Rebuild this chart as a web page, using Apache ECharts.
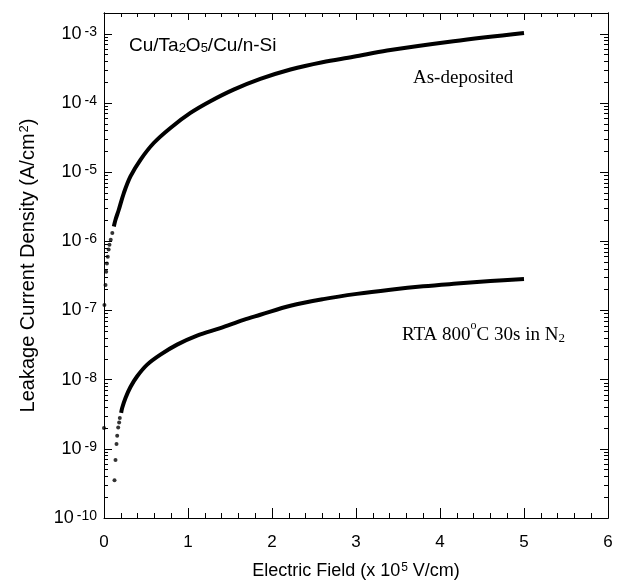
<!DOCTYPE html>
<html>
<head>
<meta charset="utf-8">
<script src="https://cdn.jsdelivr.net/npm/echarts@6/dist/echarts.min.js"></script>
<style>
	html, body { margin: 0; padding: 0; background: #fff; }
	#chart { width: 623px; height: 585px; }
</style>
</head>
<body>
<div id="chart"></div>
<script>
// As-deposited: dense part (field in 1e5 V/cm, J in A/cm2)
const asDepField = [0.117, 0.137, 0.176, 0.236, 0.315, 0.434, 0.592, 0.791, 1.029, 1.266, 1.543, 1.861, 2.22, 2.60, 2.97, 3.37, 4.16, 5.0];
const asDepJ = [1.64e-6, 2.05e-6, 2.86e-6, 4.99e-6, 8.67e-6, 1.51e-5, 2.64e-5, 4.36e-5, 7.18e-5, 1.06e-4, 1.56e-4, 2.23e-4, 3.05e-4, 3.89e-4, 4.65e-4, 5.73e-4, 7.82e-4, 1.03e-3];
// As-deposited: separate dots at low field
const asDepDotField = [0.005, 0.018, 0.026, 0.035, 0.045, 0.055, 0.065, 0.08, 0.099];
const asDepDotJ = [1.2e-7, 2.34e-7, 3.63e-7, 4.79e-7, 6.0e-7, 7.6e-7, 8.9e-7, 1.05e-6, 1.32e-6];

// RTA 800C: dense part
const rtaField = [0.204, 0.216, 0.256, 0.315, 0.395, 0.514, 0.672, 0.870, 1.108, 1.385, 1.662, 1.861, 2.22, 2.61, 3.01, 3.41, 3.80, 4.20, 4.60, 5.0];
const rtaJ = [3.31e-9, 3.89e-9, 5.43e-9, 7.83e-9, 1.12e-8, 1.65e-8, 2.30e-8, 3.21e-8, 4.34e-8, 5.56e-8, 7.33e-8, 8.67e-8, 1.17e-7, 1.46e-7, 1.74e-7, 2.0e-7, 2.24e-7, 2.45e-7, 2.66e-7, 2.85e-7];
// RTA 800C: separate dots at low field
const rtaDotField = [0.0, 0.125, 0.137, 0.149, 0.157, 0.169, 0.18, 0.188];
const rtaDotJ = [2.0e-9, 3.5e-10, 6.9e-10, 1.17e-9, 1.55e-9, 2.04e-9, 2.4e-9, 2.8e-9];

// tick values
const decadeTicks = [1e-10, 1e-9, 1e-8, 1e-7, 1e-6, 1e-5, 1e-4, 1e-3];
const minorTicks = [];
decadeTicks.forEach(d => {
	for (let k = 2; k <= 9; k++) {
		if (d * k < 2e-3) minorTicks.push(d * k);
	}
});

const zip = (xs, ys) => xs.map((x, i) => [x, ys[i]]);

const chart = echarts.init(document.getElementById('chart'), null, { renderer: 'canvas' });

// rich styles for superscripts
const supRich = (size, supSize, gap) => ({
	b: { fontFamily: 'Liberation Sans', fontSize: size, lineHeight: size, verticalAlign: 'bottom', color: '#000' },
	sup: { fontFamily: 'Liberation Sans', fontSize: supSize, lineHeight: supSize, verticalAlign: 'top', color: '#000', padding: [0, 0, 0, gap] }
});

const yBase = {
	type: 'log',
	logBase: 10,
	min: 1e-10,
	max: 2e-3,
	splitLine: { show: false },
	axisLine: { show: true, lineStyle: { color: '#000', width: 1 } }
};

const option = {
	backgroundColor: '#fff',
	animation: false,
	grid: { left: 104, right: 15, top: 13, bottom: 67, containLabel: false },
	xAxis: [{
		type: 'value',
		min: 0,
		max: 6,
		interval: 1,
		position: 'bottom',
		name: '{b|Electric Field (x 10}{sup|5}{b| V/cm)}',
		nameLocation: 'middle',
		nameGap: 44,
		nameTextStyle: { rich: supRich(18, 12, 1) },
		axisLine: { lineStyle: { color: '#000' } },
		axisTick: { inside: true, length: 10, lineStyle: { color: '#000' } },
		minorTick: { show: true, splitNumber: 5, length: 5, lineStyle: { color: '#000' } },
		splitLine: { show: false },
		axisLabel: { fontFamily: 'Liberation Sans', fontSize: 17, color: '#000', margin: 16 }
	}, {
		type: 'value',
		min: 0,
		max: 6,
		interval: 1,
		position: 'top',
		axisLine: { lineStyle: { color: '#000' } },
		axisTick: { inside: true, length: 7, lineStyle: { color: '#000' } },
		minorTick: { show: true, splitNumber: 5, length: 4, lineStyle: { color: '#000' } },
		splitLine: { show: false },
		axisLabel: { show: false }
	}],
	yAxis: [Object.assign({}, yBase, {
		position: 'left',
		name: '{b|Leakage Current Density (A/cm}{sup|2}{b|)}',
		nameLocation: 'middle',
		nameGap: 66,
		nameTextStyle: { rich: supRich(20, 13, 1) },
		axisTick: { inside: true, length: 8, lineStyle: { color: '#000' }, customValues: decadeTicks },
		axisLabel: {
			customValues: decadeTicks,
			margin: 7,
			formatter: function (v) {
				return '{b|10}{sup|' + Math.round(Math.log10(v)) + '}';
			},
			rich: supRich(18, 14, 3)
		}
	}), Object.assign({}, yBase, {
		position: 'left',
		axisTick: { inside: true, length: 4, lineStyle: { color: '#000' }, customValues: minorTicks },
		axisLabel: { show: false }
	}), Object.assign({}, yBase, {
		position: 'right',
		axisTick: { inside: true, length: 8, lineStyle: { color: '#000' }, customValues: decadeTicks },
		axisLabel: { show: false }
	}), Object.assign({}, yBase, {
		position: 'right',
		axisTick: { inside: true, length: 4, lineStyle: { color: '#000' }, customValues: minorTicks },
		axisLabel: { show: false }
	})],
	series: [{
		name: 'As-deposited',
		type: 'line',
		smooth: 0.35,
		showSymbol: false,
		lineStyle: { color: '#000', width: 4 },
		data: zip(asDepField, asDepJ)
	}, {
		name: 'As-deposited dots',
		type: 'scatter',
		symbolSize: 4,
		itemStyle: { color: '#000' },
		data: zip(asDepDotField, asDepDotJ)
	}, {
		name: 'RTA 800C',
		type: 'line',
		smooth: 0.35,
		showSymbol: false,
		lineStyle: { color: '#000', width: 4 },
		data: zip(rtaField, rtaJ)
	}, {
		name: 'RTA dots',
		type: 'scatter',
		symbolSize: 4,
		itemStyle: { color: '#000' },
		data: zip(rtaDotField, rtaDotJ)
	}],
	graphic: [{
		type: 'text',
		left: 129,
		top: 36,
		style: {
			text: '{t|Cu/Ta}{s|2}{t|O}{s|5}{t|/Cu/n-Si}',
			rich: {
				t: { fontFamily: 'Liberation Sans', fontSize: 19, lineHeight: 25, verticalAlign: 'bottom', color: '#000' },
				s: { fontFamily: 'Liberation Sans', fontSize: 13, lineHeight: 13, verticalAlign: 'bottom', color: '#000' }
			}
		}
	}, {
		type: 'text',
		left: 413,
		top: 69,
		style: {
			text: 'As-deposited',
			fontFamily: 'Liberation Serif',
			fontSize: 19,
			fill: '#000'
		}
	}, {
		type: 'text',
		left: 402,
		top: 320,
		style: {
			text: '{t|RTA 800}{sup|o}{t|C 30s in N}{s|2}',
			rich: {
				t: { fontFamily: 'Liberation Serif', fontSize: 19, lineHeight: 25, verticalAlign: 'bottom', color: '#000' },
				sup: { fontFamily: 'Liberation Serif', fontSize: 12, lineHeight: 13, verticalAlign: 'top', color: '#000' },
				s: { fontFamily: 'Liberation Serif', fontSize: 13, lineHeight: 13, verticalAlign: 'bottom', color: '#000' }
			}
		}
	}]
};

chart.setOption(option);
</script>
</body>
</html>
